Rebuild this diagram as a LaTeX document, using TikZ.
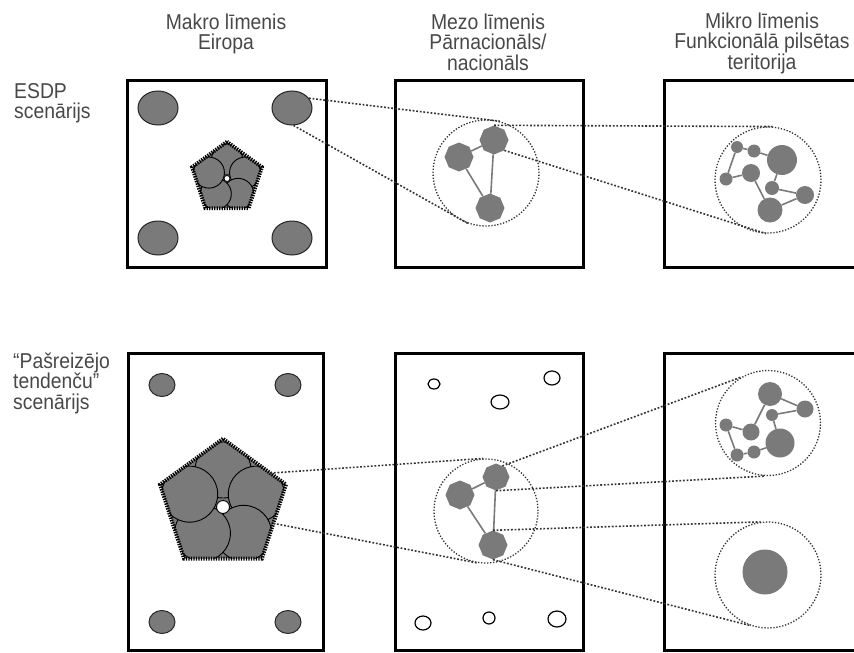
\documentclass[tikz,border=0pt]{standalone}
\usepackage{fontspec}
\setmainfont[FakeStretch=0.9]{Liberation Sans}
\usetikzlibrary{shapes.geometric,calc}
\definecolor{blobgray}{RGB}{122,122,122}
\definecolor{txtgray}{RGB}{72,72,72}
\definecolor{dotgray}{RGB}{50,50,50}
\begin{document}
\begin{tikzpicture}[x=1pt,y=-1pt,
  frame/.style={draw=black,line width=3pt},
  hdr/.style={font=\fontsize{21.5}{20.5}\selectfont,text=txtgray,inner sep=0,align=center,anchor=north},
  lbl/.style={font=\fontsize{21.5}{20.5}\selectfont,text=txtgray,inner sep=0,align=left,anchor=north west},
  blob/.style={ellipse,fill=blobgray,draw=black!85,line width=1pt,inner sep=0},
  hole/.style={ellipse,fill=white,draw=black,line width=1.2pt,inner sep=0},
  dotc/.style={circle,draw=dotgray,line width=1.3pt,dash pattern=on 1.3pt off 1.7pt,inner sep=0},
  dotl/.style={draw=dotgray,line width=1.6pt,dash pattern=on 1.8pt off 1.8pt},
  oct/.style={regular polygon,regular polygon sides=8,shape border rotate=22.5,fill=blobgray,inner sep=0},
  bub/.style={circle,fill=blobgray,inner sep=0},
  link/.style={draw=blobgray,line width=1.6pt},
  lobe/.style={fill=blobgray,draw=black,line width=0.9pt},
  jag/.style={draw=black,line width=3.8pt,dash pattern=on 1.4pt off 1.1pt},
  penta/.style={regular polygon,regular polygon sides=5,fill=blobgray,inner sep=0}]
\useasboundingbox (0,0) rectangle (854,653);

% ---------- headers ----------
\node[hdr] (h1) at (226,13) {\rule{0pt}{16pt}Makro līmenis\\Eiropa};
\node[hdr] (h2) at (488,13) {\rule{0pt}{16pt}Mezo līmenis\\Pārnacionāls/\\nacionāls};
\node[hdr] (h3) at (762,12) {\rule{0pt}{16pt}Mikro līmenis\\Funkcionālā pilsētas\\teritorija};
\node[lbl] (l1) at (14,82) {\rule{0pt}{16pt}ESDP\\scenārijs};
\node[lbl] (l2) at (13,352) {\rule{0pt}{16pt}“Pašreizējo\\tendenču”\\scenārijs};

% ---------- frames ----------
\draw[frame] (127,80) rectangle (326,267);
\draw[frame] (395,80) rectangle (583,267);
\draw[frame] (858,80) -- (664,80) -- (664,267) -- (858,267);
\draw[frame] (128,353) rectangle (323,650);
\draw[frame] (395,353) rectangle (583,650);
\draw[frame] (858,353) -- (664,353) -- (664,650) -- (858,650);

% ---------- top row, macro ----------
\node[blob,minimum width=40pt,minimum height=34pt] (e1tl) at (158,108) {};
\node[blob,minimum width=40pt,minimum height=34pt] (e1tr) at (292,108) {};
\node[blob,minimum width=40pt,minimum height=34pt] (e1bl) at (158,238) {};
\node[blob,minimum width=40pt,minimum height=34pt] (e1br) at (292,238) {};

\node[penta,minimum size=73pt] (p1) at (227,178.5) {};
\begin{scope}
  \clip (p1.corner 1) -- (p1.corner 2) -- (p1.corner 3) -- (p1.corner 4) -- (p1.corner 5) -- cycle;
  \foreach \a in {-90,-18,54,126,198}
    \draw[lobe] ($(p1.center)+(\a:19)$) circle (15.5);
\end{scope}
\node[hole,minimum size=6pt,line width=0.8pt] (p1h) at (p1.center) {};
\draw[jag] (p1.corner 1) -- (p1.corner 2) -- (p1.corner 3) -- (p1.corner 4) -- (p1.corner 5) -- cycle;

% ---------- top row, meso ----------
\node[dotc,minimum size=106pt] (mz1) at (486,173) {};
\node[oct,minimum size=29pt] (A1) at (459,157) {};
\node[oct,minimum size=29pt] (B1) at (494,140) {};
\node[oct,minimum size=29pt] (C1) at (490,208) {};
\draw[link] (A1) -- (B1);
\draw[link] (A1) -- (C1);
\draw[link] (B1) -- (C1);

% ---------- top row, micro ----------
\node[dotc,minimum size=106pt] (mi1) at (768,180) {};
\node[bub,minimum size=30pt] (n1) at (782,160) {};
\node[bub,minimum size=12pt] (n2) at (737,147) {};
\node[bub,minimum size=13pt] (n3) at (754,151) {};
\node[bub,minimum size=13pt] (n4) at (726,179) {};
\node[bub,minimum size=18pt] (n5) at (751,173) {};
\node[bub,minimum size=14pt] (n6) at (772,188) {};
\node[bub,minimum size=18pt] (n7) at (805,195) {};
\node[bub,minimum size=25pt] (n8) at (770,210) {};
\draw[link] (n2) -- (n3);
\draw[link] (n2) -- (n4);
\draw[link] (n3) -- (n1);
\draw[link] (n4) -- (n5);
\draw[link] (n5) -- (n8);
\draw[link] (n6) -- (n7);
\draw[link] (n8) -- (n7);
\draw[link] (n6) -- (n1);

% ---------- top row connectors ----------
\draw[dotl] (e1tr.30) -- (mz1.75);
\draw[dotl] (e1tr.-85) -- (mz1.251);
\draw[dotl] (B1.north) -- (mi1.85);
\draw[dotl] (B1.-45) -- (mi1.-92);

% ---------- bottom row, macro ----------
\node[blob,minimum width=26pt,minimum height=23pt] (e2tl) at (162,385) {};
\node[blob,minimum width=26pt,minimum height=23pt] (e2tr) at (288,385) {};
\node[blob,minimum width=26pt,minimum height=23pt] (e2bl) at (162,622) {};
\node[blob,minimum width=26pt,minimum height=23pt] (e2br) at (288,622) {};

\node[penta,minimum size=132pt] (p2) at (223,505) {};
\begin{scope}
  \clip (p2.corner 1) -- (p2.corner 2) -- (p2.corner 3) -- (p2.corner 4) -- (p2.corner 5) -- cycle;
  \foreach \a in {-90,-18,54,126,198}
    \draw[lobe] ($(p2.center)+(\a:35)$) circle (28);
\end{scope}
\node[hole,minimum size=13pt,line width=0.9pt] (p2h) at ($(p2.center)+(0,2)$) {};
\draw[jag] (p2.corner 1) -- (p2.corner 2) -- (p2.corner 3) -- (p2.corner 4) -- (p2.corner 5) -- cycle;

% ---------- bottom row, meso ----------
\node[hole,minimum width=12pt,minimum height=10pt] (w1) at (434,384) {};
\node[hole,minimum width=16pt,minimum height=14pt] (w2) at (552,378) {};
\node[hole,minimum width=18pt,minimum height=14pt] (w3) at (500,402) {};
\node[hole,minimum width=16pt,minimum height=14pt] (w4) at (423,623) {};
\node[hole,minimum width=12pt,minimum height=12pt] (w5) at (489,618) {};
\node[hole,minimum width=18pt,minimum height=16pt] (w6) at (557,619) {};

\node[dotc,minimum size=104pt] (mz2) at (486,511) {};
\node[oct,minimum size=29pt] (A2) at (460,495) {};
\node[oct,minimum size=27pt] (B2) at (496,477) {};
\node[oct,minimum size=29pt] (C2) at (493,545) {};
\draw[link] (A2) -- (B2);
\draw[link] (A2) -- (C2);
\draw[link] (B2) -- (C2);

% ---------- bottom row, micro ----------
\node[dotc,minimum size=105pt] (mi2) at (768,423) {};
\node[bub,minimum width=24pt,minimum height=22pt] (m1) at (770,394) {};
\node[bub,minimum size=17pt] (m2) at (805,409) {};
\node[bub,minimum size=12pt] (m3) at (772,415) {};
\node[bub,minimum size=13pt] (m4) at (726,425) {};
\node[bub,minimum size=17pt] (m5) at (751,432) {};
\node[bub,minimum size=29pt] (m6) at (780,443) {};
\node[bub,minimum size=13pt] (m7) at (754,452) {};
\node[bub,minimum size=13pt] (m8) at (737,455) {};
\draw[link] (m8) -- (m7);
\draw[link] (m8) -- (m4);
\draw[link] (m7) -- (m6);
\draw[link] (m4) -- (m5);
\draw[link] (m5) -- (m1);
\draw[link] (m3) -- (m2);
\draw[link] (m1) -- (m2);
\draw[link] (m3) -- (m6);

\node[dotc,minimum size=106pt] (mi3) at (768,575) {};
\node[bub,minimum width=45pt,minimum height=42pt] (big) at (765,572) {};

% ---------- bottom row connectors ----------
\draw[dotl] (p2.34) -- (mz2.93);
\draw[dotl] (p2.-20) -- (mz2.-100);
\draw[dotl] (B2.60) -- (mi2.120);
\draw[dotl] (B2.south) -- (mi2.-93);
\draw[dotl] (C2.north) -- (mi3.98);
\draw[dotl] (C2.south) -- (mi3.-110);
\end{tikzpicture}
\end{document}
